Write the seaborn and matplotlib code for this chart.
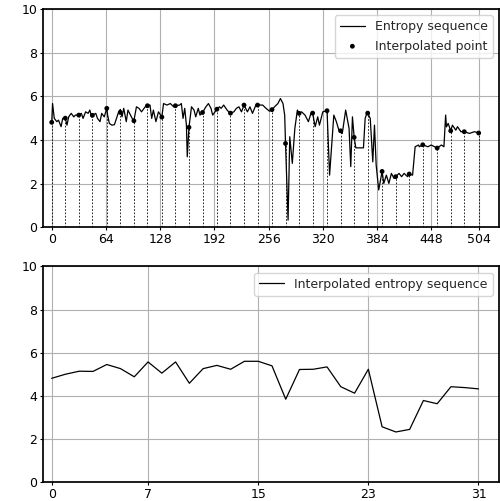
import matplotlib
matplotlib.use("Agg")
import matplotlib.pyplot as plt
import numpy as np
import pandas as pd
import seaborn as sns

# entropy sequence (index, value)
seq_idx = [0, 1, 3, 6, 8, 11, 13, 16, 18, 20, 23, 26, 28, 32, 35, 37, 40, 43, 45, 47, 48,
           52, 54, 57, 59, 62, 65, 66, 68, 71, 74, 77, 79, 81, 83, 85, 88, 90, 93, 96, 97,
           100, 103, 106, 109, 112, 113, 116, 118, 120, 123, 126, 130, 132, 136, 140, 144,
           146, 151, 153, 155, 157, 159, 160, 162, 165, 168, 170, 173, 175, 178, 182, 185,
           188, 190, 195, 198, 200, 203, 207, 209, 211, 215, 218, 221, 224, 227, 231, 234,
           237, 241, 243, 249, 253, 257, 260, 263, 267, 270, 273, 275, 276, 279, 281, 284,
           287, 290, 292, 295, 299, 303, 306, 308, 311, 314, 316, 320, 325, 328, 333, 336,
           339, 341, 343, 347, 351, 353, 355, 357, 359, 368, 370, 372, 373, 376, 379, 381,
           383, 386, 390, 392, 395, 398, 401, 404, 406, 410, 413, 416, 420, 422, 426, 429,
           433, 434, 438, 444, 448, 452, 455, 460, 463, 465, 466, 468, 471, 473, 477, 479,
           483, 487, 493, 499, 504]
seq_val = [4.81, 5.67, 4.99, 4.84, 4.91, 4.61, 4.99, 5.00, 4.68, 5.06, 5.22, 5.06, 5.14, 5.14,
           5.22, 4.99, 5.29, 5.22, 5.37, 5.06, 5.13, 5.22, 4.99, 4.84, 5.22, 5.06, 5.45, 5.14,
           4.76, 4.68, 4.70, 5.06, 5.29, 5.40, 5.06, 5.45, 4.84, 5.37, 5.14, 4.91, 4.88, 5.52,
           5.45, 5.29, 5.45, 5.60, 5.57, 5.60, 4.99, 5.37, 4.84, 5.29, 5.05, 5.67, 5.60, 5.67,
           5.52, 5.57, 5.60, 5.67, 4.99, 5.45, 4.68, 3.23, 4.58, 5.52, 5.37, 5.06, 5.45, 5.14,
           5.26, 5.52, 5.67, 5.45, 5.14, 5.41, 5.52, 5.45, 5.60, 5.37, 5.29, 5.23, 5.29, 5.45,
           5.52, 5.29, 5.60, 5.29, 5.52, 5.22, 5.60, 5.60, 5.60, 5.45, 5.32, 5.39, 5.52, 5.67,
           5.90, 5.67, 5.14, 3.84, 0.33, 4.15, 2.93, 4.53, 5.37, 5.22, 5.29, 5.14, 4.84, 5.22,
           5.22, 4.61, 5.06, 4.68, 5.29, 5.34, 2.39, 5.14, 4.84, 4.45, 4.42, 4.30, 5.37, 4.53,
           2.78, 5.06, 4.12, 3.64, 3.64, 4.99, 5.22, 5.23, 4.99, 3.00, 4.68, 2.85, 1.71, 2.56,
           2.01, 2.39, 2.01, 2.47, 2.24, 2.32, 2.47, 2.32, 2.47, 2.32, 2.44, 2.39, 3.69, 3.77,
           3.69, 3.78, 3.69, 3.77, 3.69, 3.63, 3.77, 3.69, 5.14, 4.60, 4.76, 4.42, 4.68, 4.45,
           4.61, 4.38, 4.38, 4.30, 4.38, 4.32]

# interpolated entropy values (32 points)
interp_vals = [4.81, 5.00, 5.14, 5.13, 5.45, 5.26, 4.88, 5.57, 5.05, 5.57, 4.58, 5.26,
               5.41, 5.23, 5.60, 5.60, 5.39, 3.84, 5.22, 5.23, 5.34, 4.42, 4.12, 5.23,
               2.56, 2.32, 2.44, 3.78, 3.63, 4.42, 4.38, 4.32]

top_ticks = [0, 64, 128, 192, 256, 320, 384, 448, 504]

sns.set_theme(style="ticks", rc={"axes.grid": True, "grid.color": "#b0b0b0",
                                 "grid.linewidth": 0.8, "axes.edgecolor": "black"})
plt.rcParams['font.family'] = ['DejaVu Sans']

seq = pd.DataFrame({"idx": seq_idx, "entropy": seq_val})
interp_idx = np.linspace(0, seq_idx[-1], len(interp_vals)).astype(int)
interp = pd.DataFrame({"idx": interp_idx, "entropy": interp_vals})

fig = plt.figure(figsize=(5, 5.01), dpi=100)
ax1 = fig.add_axes([0.086, 0.5463, 0.912, 0.4357])
ax2 = fig.add_axes([0.086, 0.038, 0.912, 0.4301])

# top: full sequence with interpolated points
sns.lineplot(data=seq, x="idx", y="entropy", ax=ax1, color="black", linewidth=0.9,
             label="Entropy sequence")
ax1.vlines(interp["idx"], 0, interp["entropy"], colors="black", linewidth=0.6,
           linestyles=(0, (2, 2)))
sns.scatterplot(data=interp, x="idx", y="entropy", ax=ax1, color="black", s=12,
                edgecolor="none", label="Interpolated point", zorder=3)
ax1.set_ylim(0, 10)
ax1.set_xlim(-10.3, 528)
ax1.set_xticks(top_ticks)
ax1.set_xlabel("")
ax1.set_ylabel("")
ax1.legend(loc="upper right", fontsize=9)

# bottom: interpolated sequence
pos = np.arange(len(interp_vals))
sns.lineplot(x=pos, y=interp_vals, ax=ax2, color="black", linewidth=0.9,
             label="Interpolated entropy sequence")
ax2.set_ylim(0, 10)
ax2.set_xlim(-0.63, 32.49)
ax2.set_xticks(np.linspace(0, len(interp_vals) - 1, 5).astype(int))
ax2.legend(loc="upper right", fontsize=9)

for ax in (ax1, ax2):
    ax.tick_params(labelsize=9, length=2, pad=2, width=0.8, colors="black")
    ax.set_yticks([0, 2, 4, 6, 8, 10])

fig.savefig("out.png", dpi=100)
